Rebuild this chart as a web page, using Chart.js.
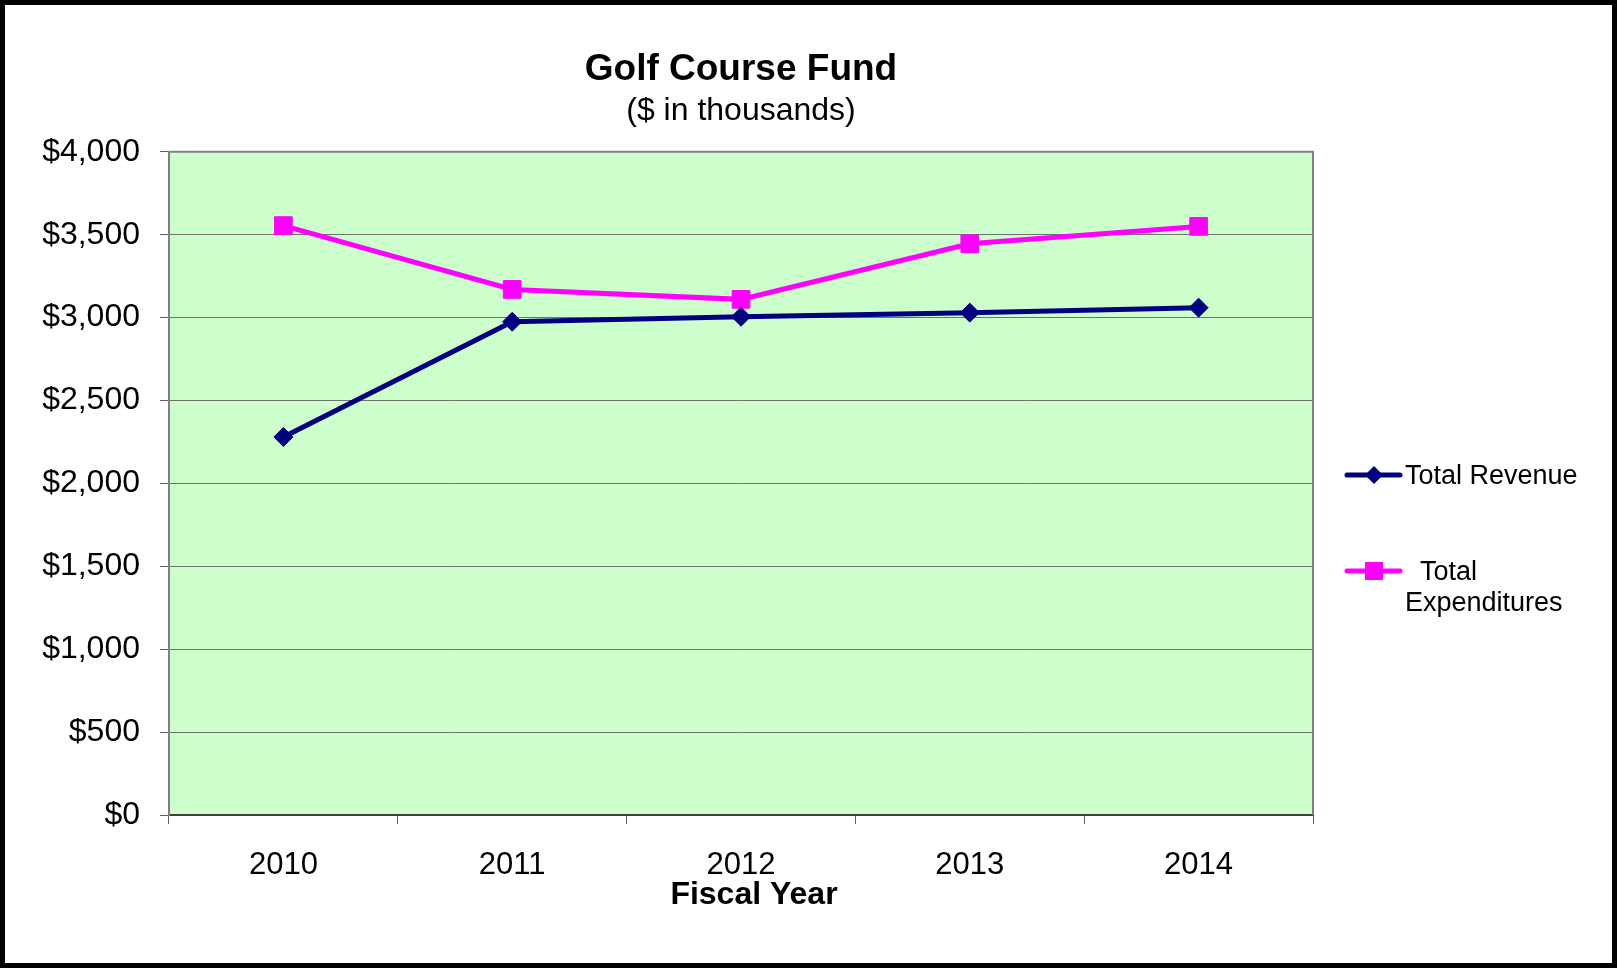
<!DOCTYPE html>
<html lang="en">
<head>
    <meta charset="UTF-8">
    <title>Golf Course Fund</title>
    <script src="https://cdn.jsdelivr.net/npm/chart.js"></script>
    <style>
        body { margin: 0; background: #fff; }
        .frame {
            width: 1617px;
            height: 968px;
            box-sizing: border-box;
            border: 5px solid #000;
            background: #fff;
        }
        canvas { display: block; }
    </style>
</head>
<body>
    <div class="frame">
        <canvas id="fundChart" width="1607" height="958"></canvas>
    </div>

    <script>
        // fiscal years and fund totals ($ in thousands)
        const years = ["2010", "2011", "2012", "2013", "2014"];
        const totalRevenue = [2280, 2975, 3005, 3030, 3060];
        const totalExpenditures = [3555, 3170, 3110, 3445, 3550];

        // y axis range
        const yMin = 0;
        const yMax = 4000;
        const yStep = 500;

        const xAxisTitle = "Fiscal Year";

        // legend text, second entry wraps onto two lines
        const legendLines = [["Total Revenue"], ["Total", "Expenditures"]];

        // green plot area + grey frame on the top/right edges
        const plotBackground = {
            id: 'plotBackground',
            beforeDraw(chart) {
                const { ctx, chartArea: a } = chart;
                ctx.save();
                ctx.fillStyle = '#CCFFCC';
                ctx.fillRect(a.left, a.top, a.width, a.height);
                ctx.restore();
            },
            beforeDatasetsDraw(chart) {
                const { ctx, chartArea: a } = chart;
                ctx.save();
                ctx.strokeStyle = '#808080';
                ctx.lineWidth = 2;
                ctx.beginPath();
                ctx.moveTo(a.left, a.top);
                ctx.lineTo(a.right, a.top);
                ctx.lineTo(a.right, a.bottom);
                ctx.stroke();
                ctx.restore();
            }
        };

        // legend to the right of the plot, plus the x axis caption
        const sideLegend = {
            id: 'sideLegend',
            afterDraw(chart) {
                const { ctx, chartArea: a } = chart;
                const x0 = a.right + 34;
                const rows = [470, 566];
                ctx.save();
                chart.data.datasets.forEach(function (ds, i) {
                    const y = rows[i];
                    ctx.strokeStyle = ds.borderColor;
                    ctx.lineWidth = 5;
                    ctx.lineCap = 'round';
                    ctx.beginPath();
                    ctx.moveTo(x0, y);
                    ctx.lineTo(x0 + 53, y);
                    ctx.stroke();

                    ctx.fillStyle = ds.backgroundColor;
                    const cx = x0 + 27;
                    if (ds.pointStyle === 'rectRot') {
                        ctx.beginPath();
                        ctx.moveTo(cx - 9, y);
                        ctx.lineTo(cx, y - 9);
                        ctx.lineTo(cx + 9, y);
                        ctx.lineTo(cx, y + 9);
                        ctx.closePath();
                        ctx.fill();
                    } else {
                        ctx.fillRect(cx - 9, y - 9, 18, 18);
                    }

                    ctx.fillStyle = '#000';
                    ctx.font = "27px 'Liberation Sans', Arial, sans-serif";
                    ctx.textBaseline = 'middle';
                    const lines = legendLines[i];
                    lines.forEach(function (t, j) {
                        const indent = (lines.length > 1 && j === 0) ? 15 : 0;
                        ctx.fillText(t, x0 + 58 + indent, y + 2 + j * 31);
                    });
                });

                // axis caption sits a little right of the plot centre
                ctx.fillStyle = '#000';
                ctx.font = "bold 32px 'Liberation Sans', Arial, sans-serif";
                ctx.textAlign = 'center';
                ctx.textBaseline = 'middle';
                ctx.fillText(xAxisTitle, (a.left + a.right) / 2 + 13, a.bottom + 80);
                ctx.restore();
            }
        };

        var fundChart;

        window.onload = function () {
            Chart.defaults.font.family = "'Liberation Sans', Arial, sans-serif";
            Chart.defaults.color = '#000';

            var ctx = document.getElementById('fundChart').getContext('2d');
            fundChart = new Chart(ctx, {
                type: 'line',
                data: {
                    labels: years,
                    datasets: [{
                        label: 'Total Revenue',
                        data: totalRevenue,
                        borderColor: '#000080',
                        backgroundColor: '#000080',
                        borderWidth: 5,
                        pointStyle: 'rectRot',
                        pointRadius: 9.5,
                        pointBorderWidth: 1,
                        tension: 0,
                        fill: false
                    }, {
                        label: 'Total Expenditures',
                        data: totalExpenditures,
                        borderColor: '#FF00FF',
                        backgroundColor: '#FF00FF',
                        borderWidth: 5,
                        pointStyle: 'rect',
                        pointRadius: 12.5,
                        pointBorderWidth: 1,
                        tension: 0,
                        fill: false
                    }]
                },
                options: {
                    responsive: false,
                    devicePixelRatio: 1,
                    animation: false,
                    events: [],
                    layout: {
                        padding: { left: 0, right: 299, top: 0, bottom: 54 }
                    },
                    plugins: {
                        legend: { display: false },
                        tooltip: { enabled: false },
                        title: {
                            display: true,
                            text: 'Golf Course Fund',
                            color: '#000',
                            fullSize: false,
                            font: { size: 37, weight: 'bold' },
                            padding: { top: 43, bottom: 0 }
                        },
                        subtitle: {
                            display: true,
                            text: '($ in thousands)',
                            color: '#000',
                            fullSize: false,
                            font: { size: 32 },
                            padding: { top: 0, bottom: 21 }
                        }
                    },
                    scales: {
                        x: {
                            offset: true,
                            afterFit: function (scale) { scale.height = 94; },
                            grid: {
                                offset: true,
                                drawOnChartArea: false,
                                tickLength: 9,
                                tickColor: '#606060',
                                tickWidth: 1
                            },
                            border: { color: '#404040', width: 2 },
                            ticks: {
                                color: '#000',
                                padding: 26,
                                font: { size: 31, lineHeight: 1 }
                            }
                        },
                        y: {
                            min: yMin,
                            max: yMax,
                            afterFit: function (scale) { scale.width = 164; },
                            grid: {
                                color: '#707070',
                                lineWidth: 1,
                                tickLength: 9,
                                tickColor: '#606060'
                            },
                            border: { color: '#808080', width: 2 },
                            ticks: {
                                stepSize: yStep,
                                color: '#000',
                                padding: 20,
                                font: { size: 32 },
                                callback: function (v) { return '$' + v.toLocaleString('en-US'); }
                            }
                        }
                    }
                },
                plugins: [plotBackground, sideLegend]
            });
        };
    </script>
</body>
</html>
